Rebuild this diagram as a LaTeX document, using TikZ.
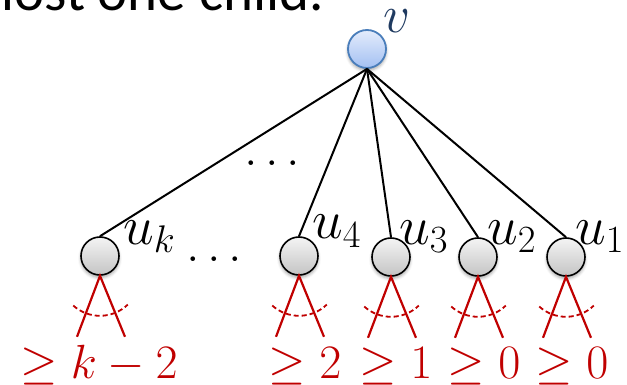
\RequirePackage{fix-cm}
\documentclass[tikz,border=0pt]{standalone}
\usepackage{fontspec}
\setmainfont{Carlito}
\usetikzlibrary{calc,shadows.blur}

\definecolor{rootline}{HTML}{4A7EBB}
\definecolor{roottop}{HTML}{E4ECFC}
\definecolor{rootbottom}{HTML}{A3C0F2}
\definecolor{leaftop}{HTML}{F4F4F4}
\definecolor{leafbottom}{HTML}{C4C4C4}
\definecolor{vblue}{HTML}{1F3A60}
\definecolor{subred}{HTML}{C00000}

\begin{document}
\begin{tikzpicture}[x=1pt,y=-1pt,
  softshadow/.style={blur shadow={shadow xshift=0pt, shadow yshift=-2.5pt,
      shadow blur radius=3pt, shadow opacity=35}},
  rootnode/.style={circle, draw=rootline, line width=1.8pt, minimum size=38pt,
      inner sep=0pt, top color=roottop, bottom color=rootbottom, softshadow},
  childnode/.style={circle, draw=black, line width=1.6pt, minimum size=38pt,
      inner sep=0pt, top color=leaftop, bottom color=leafbottom, softshadow},
  treeedge/.style={line width=2pt},
  subleg/.style={draw=subred, line width=2.2pt},
  subarc/.style={draw=subred, line width=1.8pt, dash pattern=on 5pt off 3pt},
  namelabel/.style={inner sep=0pt, font=\fontsize{55}{62}\selectfont},
  boundlabel/.style={inner sep=0pt, text=subred, font=\fontsize{48}{56}\selectfont},
  dotslabel/.style={inner sep=0pt, font=\fontsize{48}{54}\selectfont}
]
\useasboundingbox (0,0) rectangle (627,385);

% heading line, cut at the top edge
\node[inner sep=0pt, anchor=base east, font=\fontsize{57}{64}\selectfont]
  (heading) at (324,11) {most one child.};

% root and children
\node[rootnode] (v) at (367,49) {};
\node[childnode] (uk) at (100,256) {};
\node[childnode] (u4) at (299,256) {};
\node[childnode] (u3) at (391,257) {};
\node[childnode] (u2) at (478,257) {};
\node[childnode] (u1) at (566,257) {};

\foreach \c in {uk,u4,u3,u2,u1}
  \draw[treeedge] (v.south) -- (\c.north);

% node names
\node[inner sep=0pt, anchor=base west, text=vblue,
      font=\fontsize{53}{60}\selectfont] (vname) at (383,33) {$v$};
\node[namelabel, anchor=base west] (ukname) at (123,244) {$u_k$};
\node[namelabel, anchor=base west] (u4name) at (312,239) {$u_4$};
\node[namelabel, anchor=base west] (u3name) at (399,244) {$u_3$};
\node[namelabel, anchor=base west] (u2name) at (487,244) {$u_2$};
\node[namelabel, anchor=base west] (u1name) at (575,244) {$u_1$};

% omitted children
\node[dotslabel, anchor=base] (dotsedge) at (272,166) {$\ldots$};
\node[dotslabel, anchor=base] (dotsrow) at (214,261) {$\ldots$};

% subtrees hanging below each child
\foreach \c in {uk,u4,u3,u2,u1} {
  \draw[subleg] ($(\c.south)+(-23,61)$) -- (\c.south) -- ($(\c.south)+(25,61)$);
  \draw[subarc] ($(\c.south)+(132:40)$) arc[start angle=132, end angle=46, radius=40];
}

% lower bounds on subtree sizes
\node[boundlabel, anchor=base] (bk) at (99,378) {$\geq k-2$};
\node[boundlabel, anchor=base] (b4) at (305,378) {$\geq 2$};
\node[boundlabel, anchor=base] (b3) at (396,378) {$\geq 1$};
\node[boundlabel, anchor=base] (b2) at (484,378) {$\geq 0$};
\node[boundlabel, anchor=base] (b1) at (572,378) {$\geq 0$};
\end{tikzpicture}
\end{document}
